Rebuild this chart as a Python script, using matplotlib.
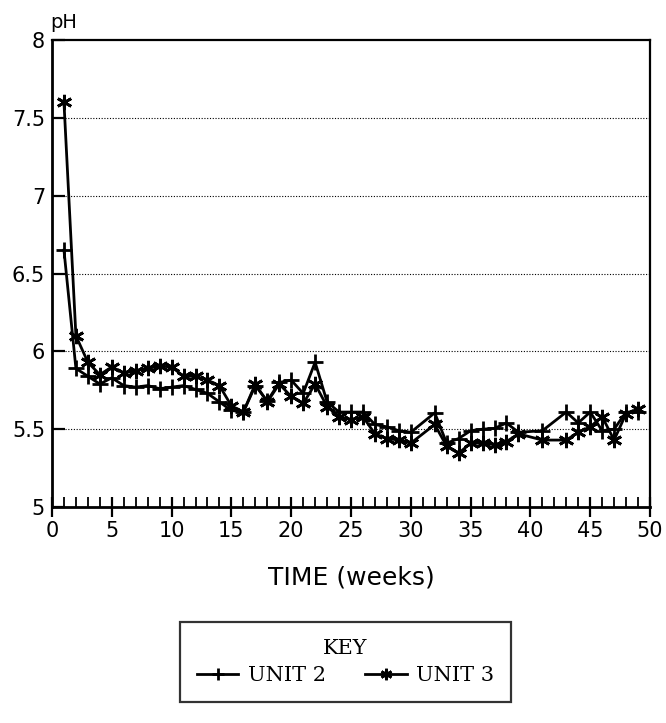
import matplotlib
matplotlib.use("Agg")
import matplotlib.pyplot as plt
from matplotlib.ticker import MultipleLocator

weeks = [1, 2, 3, 4, 5, 6, 7, 8, 9, 10, 11, 12, 13, 14, 15, 16, 17, 18, 19, 20,
         21, 22, 23, 24, 25, 26, 27, 28, 29, 30, 32, 33, 34, 35, 36, 37, 38, 39,
         41, 43, 44, 45, 46, 47, 48, 49]
unit2 = [6.65, 5.89, 5.84, 5.79, 5.83, 5.78, 5.77, 5.78, 5.76, 5.77, 5.78, 5.755,
         5.73, 5.675, 5.62, 5.61, 5.78, 5.68, 5.80, 5.815, 5.73, 5.93, 5.675, 5.61,
         5.61, 5.61, 5.53, 5.515, 5.49, 5.48, 5.605, 5.41, 5.44, 5.49, 5.50, 5.505,
         5.54, 5.48, 5.49, 5.61, 5.54, 5.61, 5.49, 5.50, 5.61, 5.61]
unit3 = [7.60, 6.10, 5.93, 5.85, 5.90, 5.86, 5.875, 5.89, 5.905, 5.90, 5.84, 5.84,
         5.815, 5.78, 5.65, 5.61, 5.79, 5.675, 5.79, 5.71, 5.665, 5.79, 5.645, 5.58,
         5.56, 5.58, 5.47, 5.44, 5.43, 5.41, 5.53, 5.39, 5.345, 5.41, 5.41, 5.40,
         5.42, 5.47, 5.43, 5.43, 5.48, 5.515, 5.58, 5.43, 5.60, 5.63]
series_labels = ["UNIT 2", "UNIT 3"]
x_ticks = [0, 5, 10, 15, 20, 25, 30, 35, 40, 45, 50]
y_ticks = [5, 5.5, 6, 6.5, 7, 7.5, 8]
y_tick_labels = ["5", "5.5", "6", "6.5", "7", "7.5", "8"]

W, H = 666, 723
fig = plt.figure(figsize=(W / 100, H / 100), dpi=100)
ax = fig.add_axes([52 / W, 1 - 507 / H, (650 - 52) / W, (507 - 40) / H])

ax.plot(weeks, unit2, color="black", lw=2.0, marker="+", ms=12, mew=2.0,
        label=series_labels[0])
ax.plot(weeks, unit3, color="black", lw=2.0, marker=(6, 2, 0), ms=11, mew=2.0,
        label=series_labels[1])

ax.set_xlim(0, 50)
ax.set_ylim(5, 8)
ax.set_xticks(x_ticks)
ax.set_yticks(y_ticks)
ax.set_yticklabels(y_tick_labels)
ax.xaxis.set_minor_locator(MultipleLocator(1))

for v in y_ticks[1:-1]:
    ax.axhline(v, xmin=0.022, xmax=1, color="black", lw=0.8, ls=(0, (1, 1.5)), zorder=0)

ax.tick_params(axis="y", which="major", direction="in", length=9, width=1.6,
               labelsize=15, pad=5)
ax.tick_params(axis="x", which="major", direction="inout", length=14, width=1.6,
               labelsize=15, pad=3)
ax.tick_params(axis="x", which="minor", direction="in", length=7, width=1.3)

for side in ["left", "bottom"]:
    ax.spines[side].set_linewidth(2)
for side in ["top", "right"]:
    ax.spines[side].set_linewidth(1.6)

fig.text(50 / W, 1 - 28 / H, "pH", fontsize=14, ha="left", va="baseline")
fig.text(351 / W, 1 - 577 / H, "TIME (weeks)", fontsize=18, ha="center", va="center")

leg = fig.legend(loc="upper left", bbox_to_anchor=(180 / W, 1 - 622 / H),
                 bbox_transform=fig.transFigure, ncol=2, title="KEY",
                 frameon=True, fancybox=False, edgecolor="black",
                 prop={"family": "DejaVu Serif", "size": 15},
                 title_fontproperties={"family": "DejaVu Serif", "size": 15},
                 handlelength=2.0, handletextpad=0.45, columnspacing=1.9,
                 borderpad=0.8, labelspacing=0.4, markerscale=0.75,
                 borderaxespad=0)
leg.get_frame().set_linewidth(1.6)

fig.savefig("out.png", dpi=100)
